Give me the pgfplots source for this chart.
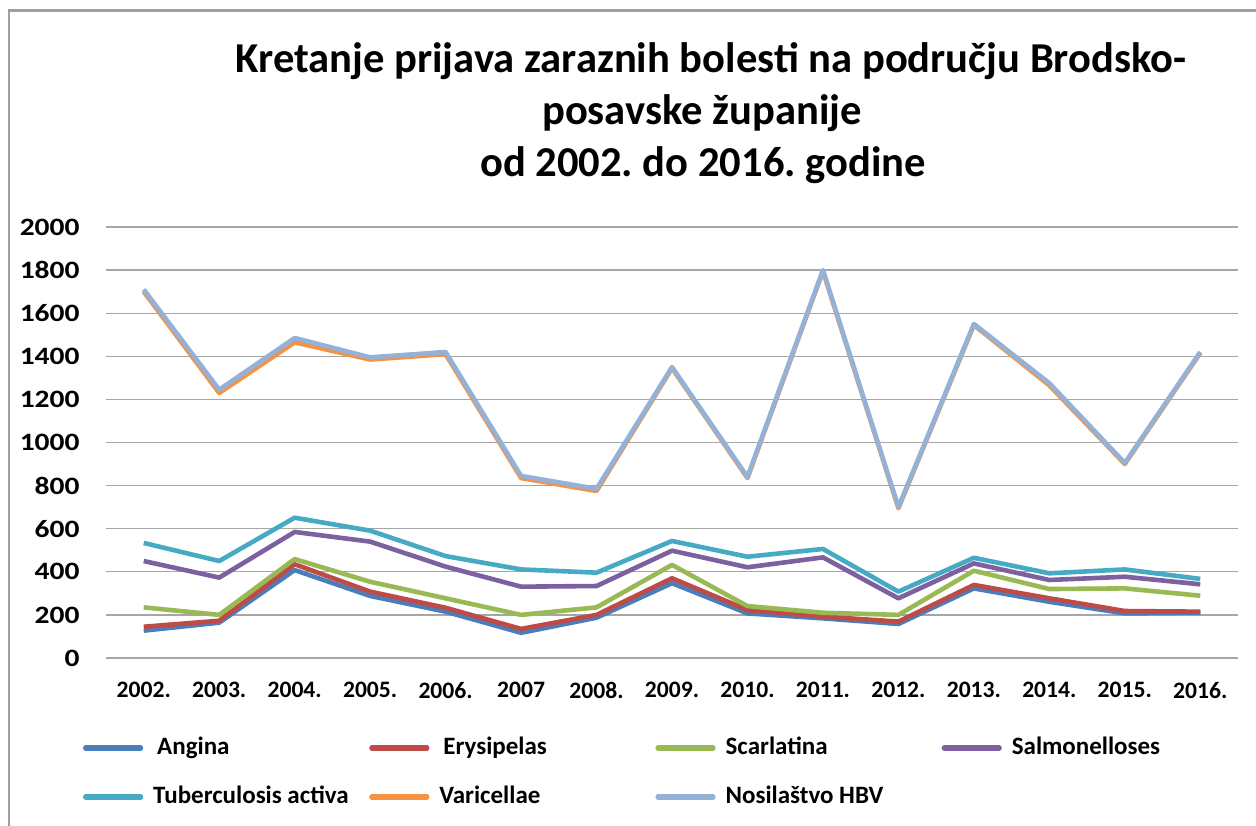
\documentclass[border=0pt]{standalone}
\usepackage{pgfplots}
\pgfplotsset{compat=1.18}
\usepackage{fontspec}
\setmainfont{Carlito}
\newfontfamily\widefont{Carlito}[FakeStretch=1.18]
\frenchspacing
\definecolor{cAng}{HTML}{4A7EBB}
\definecolor{cEry}{HTML}{BE4B48}
\definecolor{cSca}{HTML}{98B954}
\definecolor{cSal}{HTML}{7D60A0}
\definecolor{cTub}{HTML}{46AAC5}
\definecolor{cVar}{HTML}{F69240}
\definecolor{cHBV}{HTML}{94B1D8}
\begin{document}
\begin{tikzpicture}
\path[use as bounding box] (0,0) rectangle (628pt,412.5pt);
\draw[gray!75, line width=1.3pt] (4.5pt,-1pt) -- (4.5pt,407.25pt) -- (630pt,407.25pt);
\node[anchor=base, font=\bfseries\fontsize{21.3}{25}\selectfont, inner sep=0pt] at (355.5pt,376pt) {Kretanje prijava zaraznih bolesti na području Brodsko-};
\node[anchor=base, font=\bfseries\fontsize{21.3}{25}\selectfont, inner sep=0pt] at (351pt,350pt) {posavske županije};
\node[anchor=base, font=\bfseries\fontsize{21.3}{25}\selectfont, inner sep=0pt] at (351.5pt,324pt) {od 2002. do 2016. godine};
\begin{axis}[
  at={(53pt,83.5pt)}, anchor=south west,
  scale only axis, width=566pt, height=215.5pt,
  xmin=-0.5, xmax=14.5, ymin=0, ymax=2000,
  axis line style={draw=none},
  ymajorgrids, grid style={gray!70, line width=0.6pt},
  major tick length=0pt,
  xtick={0,...,14},
  xticklabels={2002.,2003.,2004.,2005.,2006.,2007,2008.,2009.,2010.,2011.,2012.,2013.,2014.,2015.,2016.},
  ytick={0,200,...,2000},
  /pgf/number format/assume math mode=true,
  /pgf/number format/1000 sep={},
  yticklabel style={font=\widefont\bfseries\fontsize{12.5}{15}\selectfont, anchor=east, inner sep=0pt, xshift=-13pt},
  xticklabel style={font=\bfseries\fontsize{11.8}{14}\selectfont, anchor=north, inner sep=0pt, yshift=-12pt},
  legend columns=4,
  legend cell align=left,
  legend style={at={(-0.0203,-0.181)}, anchor=north west, draw=none, inner sep=0pt, outer sep=0pt,
    nodes={inner sep=0pt, text height=9pt, text depth=3pt, font=\bfseries\fontsize{12.5}{15}\selectfont},
    row sep=12.5pt,
    /tikz/every odd column/.append style={column sep=5pt}},
  legend image code/.code={\draw[#1, line width=2.6pt, line cap=round] (0pt,0pt) -- (27.5pt,0pt);},
  every axis plot/.append style={line width=2.3pt, line join=round, mark=none},
]
\addplot[cAng] coordinates {(0,127)(1,164)(2,408)(3,288)(4,215)(5,117)(6,187)(7,347)(8,207)(9,184)(10,158)(11,323)(12,261)(13,207)(14,210)};
\addlegendentry{\makebox[108pt][l]{\hspace{2pt}Angina}}
\addplot[cEry] coordinates {(0,145)(1,173)(2,435)(3,308)(4,233)(5,135)(6,200)(7,370)(8,223)(9,192)(10,169)(11,339)(12,277)(13,218)(14,215)};
\addlegendentry{\makebox[108pt][l]{\hspace{2pt}Erysipelas}}
\addplot[cSca] coordinates {(0,235)(1,200)(2,459)(3,354)(4,277)(5,200)(6,235)(7,432)(8,241)(9,210)(10,200)(11,405)(12,320)(13,323)(14,289)};
\addlegendentry{\makebox[108pt][l]{Scarlatina}}
\addplot[cSal] coordinates {(0,450)(1,373)(2,585)(3,540)(4,424)(5,331)(6,334)(7,498)(8,421)(9,467)(10,277)(11,439)(12,362)(13,377)(14,342)};
\addlegendentry{\makebox[108pt][l]{Salmonelloses}}
\addplot[cTub] coordinates {(0,534)(1,450)(2,651)(3,591)(4,473)(5,411)(6,396)(7,543)(8,470)(9,506)(10,308)(11,465)(12,393)(13,411)(14,367)};
\addlegendentry{\makebox[108pt][l]{Tuberculosis activa}}
\addplot[cVar] coordinates {(0,1700)(1,1230)(2,1465)(3,1385)(4,1410)(5,835)(6,775)(7,1345)(8,835)(9,1795)(10,695)(11,1545)(12,1265)(13,900)(14,1415)};
\addlegendentry{\makebox[108pt][l]{Varicellae}}
\addplot[cHBV] coordinates {(0,1710)(1,1245)(2,1485)(3,1395)(4,1420)(5,845)(6,785)(7,1350)(8,840)(9,1800)(10,700)(11,1550)(12,1275)(13,905)(14,1420)};
\addlegendentry{\makebox[108pt][l]{Nosilaštvo HBV}}
\end{axis}
\end{tikzpicture}
\end{document}
